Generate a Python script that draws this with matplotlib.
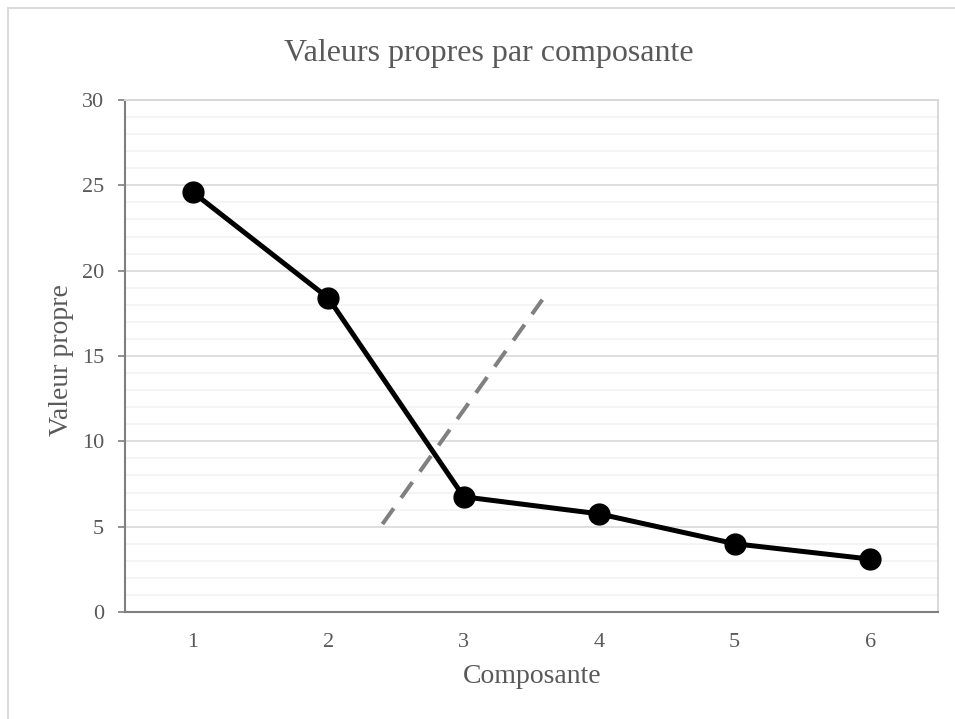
import matplotlib
matplotlib.use("Agg")
import matplotlib.pyplot as plt
from matplotlib.lines import Line2D
from matplotlib.ticker import MultipleLocator

plt.rcParams['font.family'] = ['Liberation Serif', 'DejaVu Serif']

categories = [1, 2, 3, 4, 5, 6]
eigenvalues = [24.6, 18.4, 6.75, 5.75, 4.0, 3.1]
elbow_x = [2.4, 3.58]
elbow_y = [5.15, 18.3]

W, H = 955, 719
fig = plt.figure(figsize=(W / 100, H / 100), dpi=100)
ax = fig.add_axes([125 / W, 1 - 612 / H, (938 - 125) / W, (612 - 100) / H])

# outer chart border (top and left edges visible)
fig.lines.append(Line2D([8 / W, 1], [1 - 8 / H, 1 - 8 / H], transform=fig.transFigure,
                        color='#d9d9d9', linewidth=1.4))
fig.lines.append(Line2D([8 / W, 8 / W], [0, 1 - 8 / H], transform=fig.transFigure,
                        color='#d9d9d9', linewidth=1.4))

ax.set_xlim(0.5, 6.5)
ax.set_ylim(0, 30)
ax.yaxis.set_major_locator(MultipleLocator(5))
ax.yaxis.set_minor_locator(MultipleLocator(1))
ax.set_xticks(categories)
ax.set_xticklabels([str(c) for c in categories])

ax.grid(which='major', axis='y', color='#d9d9d9', linewidth=1.2)
ax.grid(which='minor', axis='y', color='#f2f2f2', linewidth=1.2)
ax.set_axisbelow(True)

for s in ['top', 'right']:
    ax.spines[s].set_color('#d9d9d9')
    ax.spines[s].set_linewidth(1.4)
for s in ['left', 'bottom']:
    ax.spines[s].set_color('#7f7f7f')
    ax.spines[s].set_linewidth(1.5)

ax.tick_params(axis='y', which='major', length=5, width=1.2, color='#7f7f7f',
               labelsize=16, labelcolor='#595959', pad=10)
ax.tick_params(axis='y', which='minor', length=0)
ax.tick_params(axis='x', length=0, labelsize=16, labelcolor='#595959', pad=15)

ax.plot(elbow_x, elbow_y, color='#808080', linewidth=2.9, linestyle=(0, (4.8, 3.2)),
        zorder=2)
ax.plot(categories, eigenvalues, color='black', linewidth=3.6, marker='o',
        markersize=15, zorder=3)

fig.text(489 / W, 1 - 61 / H, 'Valeurs propres par composante', ha='center',
         va='baseline', fontsize=23, color='#595959')
fig.text(532 / W, 1 - 683 / H, 'Composante', ha='center', va='baseline',
         fontsize=20, color='#595959')
fig.text(61 / W, 1 - 360 / H, 'Valeur propre', ha='center', va='center', rotation=90,
         fontsize=20, color='#595959')

fig.savefig('out.png', dpi=100)
